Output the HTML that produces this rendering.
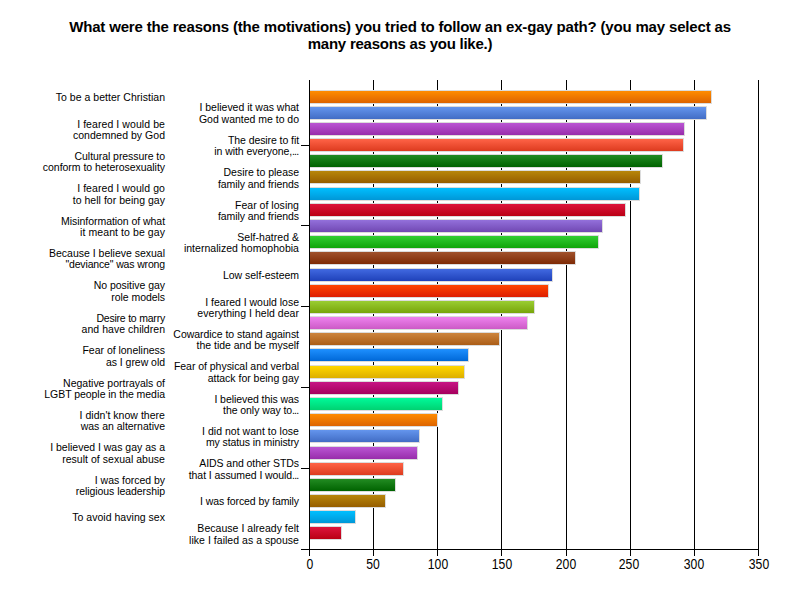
<!DOCTYPE html>
<html><head><meta charset="utf-8"><style>
html,body{margin:0;padding:0;background:#fff;}
body{width:800px;height:600px;position:relative;overflow:hidden;font-family:"Liberation Sans", sans-serif;}
.a{position:absolute;}
.t{position:absolute;left:0;width:800px;text-align:center;font-weight:bold;font-size:15px;color:#000;white-space:nowrap;line-height:17px;}
.g{position:absolute;width:1px;background:#000;}
.h{position:absolute;height:1px;background:#000;}
.b{position:absolute;height:12px;border:1px solid #dcdcdc;}
.l{position:absolute;text-align:right;font-size:10.5px;line-height:12px;color:#000;white-space:nowrap;letter-spacing:0.03px;}
.e{letter-spacing:-0.9px;}
.n{position:absolute;width:60px;text-align:center;font-size:14px;line-height:14px;color:#000;transform:scaleX(0.87);}
</style></head><body>
<div class="t" style="top:18px;letter-spacing:-0.17px">What were the reasons (the motivations) you tried to follow an ex-gay path? (you may select as</div>
<div class="t" style="top:35px;letter-spacing:-0.25px">many reasons as you like.)</div>
<div class="g" style="left:373px;top:80px;height:476px"></div>
<div class="g" style="left:437px;top:80px;height:476px"></div>
<div class="g" style="left:501px;top:80px;height:476px"></div>
<div class="g" style="left:566px;top:80px;height:476px"></div>
<div class="g" style="left:630px;top:80px;height:476px"></div>
<div class="g" style="left:694px;top:80px;height:476px"></div>
<div class="g" style="left:758px;top:80px;height:476px"></div>
<div class="b" style="left:309px;top:90px;width:401px;background:linear-gradient(#FF8C00,#dd6400)"></div>
<div class="b" style="left:309px;top:106px;width:396px;background:linear-gradient(#6495ED,#426dc5)"></div>
<div class="b" style="left:309px;top:122px;width:374px;background:linear-gradient(#BA55D3,#982dab)"></div>
<div class="b" style="left:309px;top:138px;width:373px;background:linear-gradient(#FF6347,#dd3b1f)"></div>
<div class="b" style="left:309px;top:154px;width:352px;background:linear-gradient(#228B22,#006300)"></div>
<div class="b" style="left:309px;top:170px;width:330px;background:linear-gradient(#B8860B,#965e00)"></div>
<div class="b" style="left:309px;top:187px;width:329px;background:linear-gradient(#00BFFF,#0097d7)"></div>
<div class="b" style="left:309px;top:203px;width:315px;background:linear-gradient(#DC143C,#ba0014)"></div>
<div class="b" style="left:309px;top:219px;width:292px;background:linear-gradient(#9370DB,#7148b3)"></div>
<div class="b" style="left:309px;top:235px;width:288px;background:linear-gradient(#32CD32,#10a50a)"></div>
<div class="b" style="left:309px;top:251px;width:265px;background:linear-gradient(#A0522D,#7e2a05)"></div>
<div class="b" style="left:309px;top:268px;width:242px;background:linear-gradient(#4169E1,#1f41b9)"></div>
<div class="b" style="left:309px;top:284px;width:238px;background:linear-gradient(#FF4500,#dd1d00)"></div>
<div class="b" style="left:309px;top:300px;width:224px;background:linear-gradient(#9ACD32,#78a50a)"></div>
<div class="b" style="left:309px;top:316px;width:217px;background:linear-gradient(#EE82EE,#cc5ac6)"></div>
<div class="b" style="left:309px;top:332px;width:189px;background:linear-gradient(#CD853F,#ab5d17)"></div>
<div class="b" style="left:309px;top:348px;width:158px;background:linear-gradient(#1E90FF,#0068d7)"></div>
<div class="b" style="left:309px;top:365px;width:154px;background:linear-gradient(#FFD700,#ddaf00)"></div>
<div class="b" style="left:309px;top:381px;width:148px;background:linear-gradient(#C71585,#a5005d)"></div>
<div class="b" style="left:309px;top:397px;width:132px;background:linear-gradient(#00FA9A,#00d272)"></div>
<div class="b" style="left:309px;top:413px;width:127px;background:linear-gradient(#FF8C00,#dd6400)"></div>
<div class="b" style="left:309px;top:429px;width:109px;background:linear-gradient(#6495ED,#426dc5)"></div>
<div class="b" style="left:309px;top:446px;width:107px;background:linear-gradient(#BA55D3,#982dab)"></div>
<div class="b" style="left:309px;top:462px;width:93px;background:linear-gradient(#FF6347,#dd3b1f)"></div>
<div class="b" style="left:309px;top:478px;width:85px;background:linear-gradient(#228B22,#006300)"></div>
<div class="b" style="left:309px;top:494px;width:75px;background:linear-gradient(#B8860B,#965e00)"></div>
<div class="b" style="left:309px;top:510px;width:45px;background:linear-gradient(#00BFFF,#0097d7)"></div>
<div class="b" style="left:309px;top:526px;width:31px;background:linear-gradient(#DC143C,#ba0014)"></div>
<div class="g" style="left:309px;top:80px;height:476px"></div>
<div class="h" style="left:301px;top:549px;width:458px"></div>
<div class="h" style="left:301px;top:145px;width:8px"></div>
<div class="h" style="left:301px;top:225px;width:8px"></div>
<div class="h" style="left:301px;top:306px;width:8px"></div>
<div class="h" style="left:301px;top:387px;width:8px"></div>
<div class="h" style="left:301px;top:468px;width:8px"></div>
<div class="l" style="right:635px;top:91px;letter-spacing:0.030px">To be a better Christian</div>
<div class="l" style="right:501px;top:101px;letter-spacing:-0.011px">I believed it was what</div>
<div class="l" style="right:501px;top:113px;letter-spacing:-0.017px">God wanted me to do</div>
<div class="l" style="right:635px;top:118px;letter-spacing:0.077px">I feared I would be</div>
<div class="l" style="right:635px;top:129px;letter-spacing:0.030px">condemned by God</div>
<div class="l" style="right:501px;top:134px;letter-spacing:-0.076px">The desire to fit</div>
<div class="l" style="right:501px;top:145px;letter-spacing:-0.060px">in with everyone,<span class="e">..</span>.</div>
<div class="l" style="right:635px;top:150px;letter-spacing:-0.060px">Cultural pressure to</div>
<div class="l" style="right:635px;top:161px;letter-spacing:-0.039px">conform to heterosexuality</div>
<div class="l" style="right:501px;top:166px;letter-spacing:-0.026px">Desire to please</div>
<div class="l" style="right:501px;top:178px;letter-spacing:-0.070px">family and friends</div>
<div class="l" style="right:635px;top:182px;letter-spacing:0.077px">I feared I would go</div>
<div class="l" style="right:635px;top:194px;letter-spacing:0.030px">to hell for being gay</div>
<div class="l" style="right:501px;top:199px;letter-spacing:0.030px">Fear of losing</div>
<div class="l" style="right:501px;top:210px;letter-spacing:-0.070px">family and friends</div>
<div class="l" style="right:635px;top:215px;letter-spacing:-0.052px">Misinformation of what</div>
<div class="l" style="right:635px;top:226px;letter-spacing:0.080px">it meant to be gay</div>
<div class="l" style="right:501px;top:231px;letter-spacing:0.030px">Self-hatred &amp;</div>
<div class="l" style="right:501px;top:242px;letter-spacing:0.030px">internalized homophobia</div>
<div class="l" style="right:635px;top:247px;letter-spacing:-0.008px">Because I believe sexual</div>
<div class="l" style="right:635px;top:258px;letter-spacing:-0.150px">"deviance" was wrong</div>
<div class="l" style="right:501px;top:269px;letter-spacing:-0.030px">Low self-esteem</div>
<div class="l" style="right:635px;top:279px;letter-spacing:-0.030px">No positive gay</div>
<div class="l" style="right:635px;top:291px;letter-spacing:-0.052px">role models</div>
<div class="l" style="right:501px;top:296px;letter-spacing:-0.013px">I feared I would lose</div>
<div class="l" style="right:501px;top:307px;letter-spacing:0.030px">everything I held dear</div>
<div class="l" style="right:635px;top:312px;letter-spacing:-0.210px">Desire to marry</div>
<div class="l" style="right:635px;top:323px;letter-spacing:0.030px">and have children</div>
<div class="l" style="right:501px;top:328px;letter-spacing:-0.039px">Cowardice to stand against</div>
<div class="l" style="right:501px;top:339px;letter-spacing:-0.011px">the tide and be myself</div>
<div class="l" style="right:635px;top:344px;letter-spacing:-0.020px">Fear of loneliness</div>
<div class="l" style="right:635px;top:356px;letter-spacing:-0.039px">as I grew old</div>
<div class="l" style="right:501px;top:360px;letter-spacing:-0.037px">Fear of physical and verbal</div>
<div class="l" style="right:501px;top:372px;letter-spacing:-0.015px">attack for being gay</div>
<div class="l" style="right:635px;top:377px;letter-spacing:-0.011px">Negative portrayals of</div>
<div class="l" style="right:635px;top:388px;letter-spacing:-0.045px">LGBT people in the media</div>
<div class="l" style="right:501px;top:393px;letter-spacing:-0.064px">I believed this was</div>
<div class="l" style="right:501px;top:404px;letter-spacing:-0.070px">the only way to<span class="e">..</span>.</div>
<div class="l" style="right:635px;top:409px;letter-spacing:0.030px">I didn't know there</div>
<div class="l" style="right:635px;top:420px;letter-spacing:-0.020px">was an alternative</div>
<div class="l" style="right:501px;top:425px;letter-spacing:0.030px">I did not want to lose</div>
<div class="l" style="right:501px;top:436px;letter-spacing:-0.099px">my status in ministry</div>
<div class="l" style="right:635px;top:441px;letter-spacing:-0.006px">I believed I was gay as a</div>
<div class="l" style="right:635px;top:453px;letter-spacing:0.030px">result of sexual abuse</div>
<div class="l" style="right:501px;top:457px;letter-spacing:-0.064px">AIDS and other STDs</div>
<div class="l" style="right:501px;top:469px;letter-spacing:-0.078px">that I assumed I would<span class="e">..</span>.</div>
<div class="l" style="right:635px;top:474px;letter-spacing:-0.030px">I was forced by</div>
<div class="l" style="right:635px;top:485px;letter-spacing:-0.060px">religious leadership</div>
<div class="l" style="right:501px;top:495px;letter-spacing:-0.093px">I was forced by family</div>
<div class="l" style="right:635px;top:511px;letter-spacing:0.030px">To avoid having sex</div>
<div class="l" style="right:501px;top:522px;letter-spacing:0.030px">Because I already felt</div>
<div class="l" style="right:501px;top:534px;letter-spacing:0.030px">like I failed as a spouse</div>
<div class="n" style="left:279.5px;top:557px">0</div>
<div class="n" style="left:343.2px;top:557px">50</div>
<div class="n" style="left:407.9px;top:557px">100</div>
<div class="n" style="left:471.7px;top:557px">150</div>
<div class="n" style="left:535.6px;top:557px">200</div>
<div class="n" style="left:599.4px;top:557px">250</div>
<div class="n" style="left:664.4px;top:557px">300</div>
<div class="n" style="left:728.6px;top:557px">350</div>
</body></html>
